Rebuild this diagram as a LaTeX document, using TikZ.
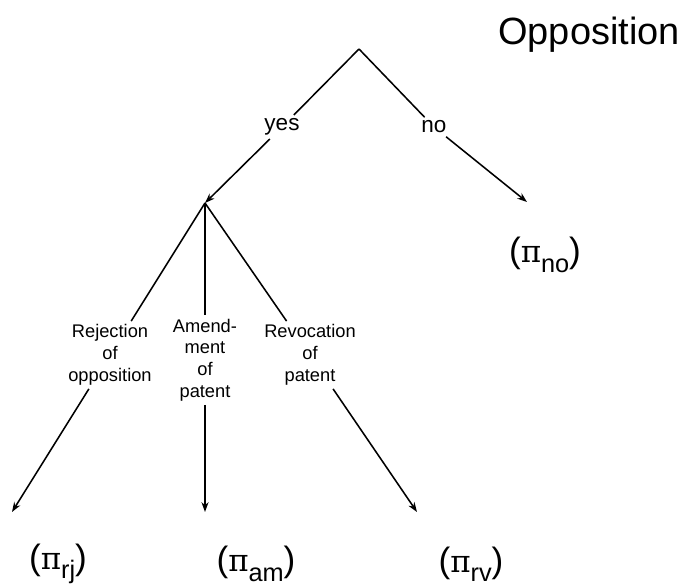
\documentclass[tikz,border=0pt]{standalone}
\usepackage{fontspec}
\setmainfont{Liberation Sans}
\newfontfamily\greekfont{DejaVu Serif}
\usetikzlibrary{arrows.meta}
\newcommand{\payoff}[1]{({\greekfont\fontsize{22}{24}\selectfont π}\raisebox{-0.5ex}{\fontsize{18}{18}\selectfont #1})}

\begin{document}
\begin{tikzpicture}[x=0.025cm, y=-0.025cm, line width=1.1pt,
	choice/.style={font=\fontsize{16}{18}\selectfont, inner sep=2pt},
	outcome/.style={font=\fontsize{13}{15.5}\selectfont, align=center, inner sep=2pt},
	payoffnode/.style={font=\fontsize{25}{28}\selectfont},
	move/.style={-{Stealth[length=7pt,width=5pt]}}]
	\useasboundingbox (0,0) rectangle (686,586);
	\node[font=\fontsize{27}{30}\selectfont] (title) at (589,35) {Opposition};
	\coordinate (root) at (359,49);
	\node[choice] (yes) at (282,127) {yes};
	\node[choice] (no) at (434,127) {no};
	\coordinate (fork) at (205,203);
	\coordinate (noend) at (527,202);
	\node[payoffnode] (pino) at (545,255) {\payoff{no}};
	\node[outcome] (rj) at (110,355) {Rejection\\of\\opposition};
	\node[outcome] (am) at (205,360) {Amend-\\ment\\of\\patent};
	\node[outcome] (rv) at (310,355) {Revocation\\of\\patent};
	\coordinate (rjend) at (12,512);
	\coordinate (amend) at (205,512);
	\coordinate (rvend) at (417,512);
	\node[payoffnode] (pirj) at (58,564) {\payoff{rj}};
	\node[payoffnode] (piam) at (256,564) {\payoff{am}};
	\node[payoffnode] (pirv) at (471,564) {\payoff{rv}};
	\draw (root) -- (yes);
	\draw (root) -- (no);
	\draw[move] (yes) -- (fork);
	\draw[move] (no) -- (noend);
	\draw (fork) -- (rj);
	\draw (fork) -- (am);
	\draw (fork) -- (rv);
	\draw[move] (rj) -- (rjend);
	\draw[move] (am) -- (amend);
	\draw[move] (rv) -- (rvend);
\end{tikzpicture}
\end{document}
